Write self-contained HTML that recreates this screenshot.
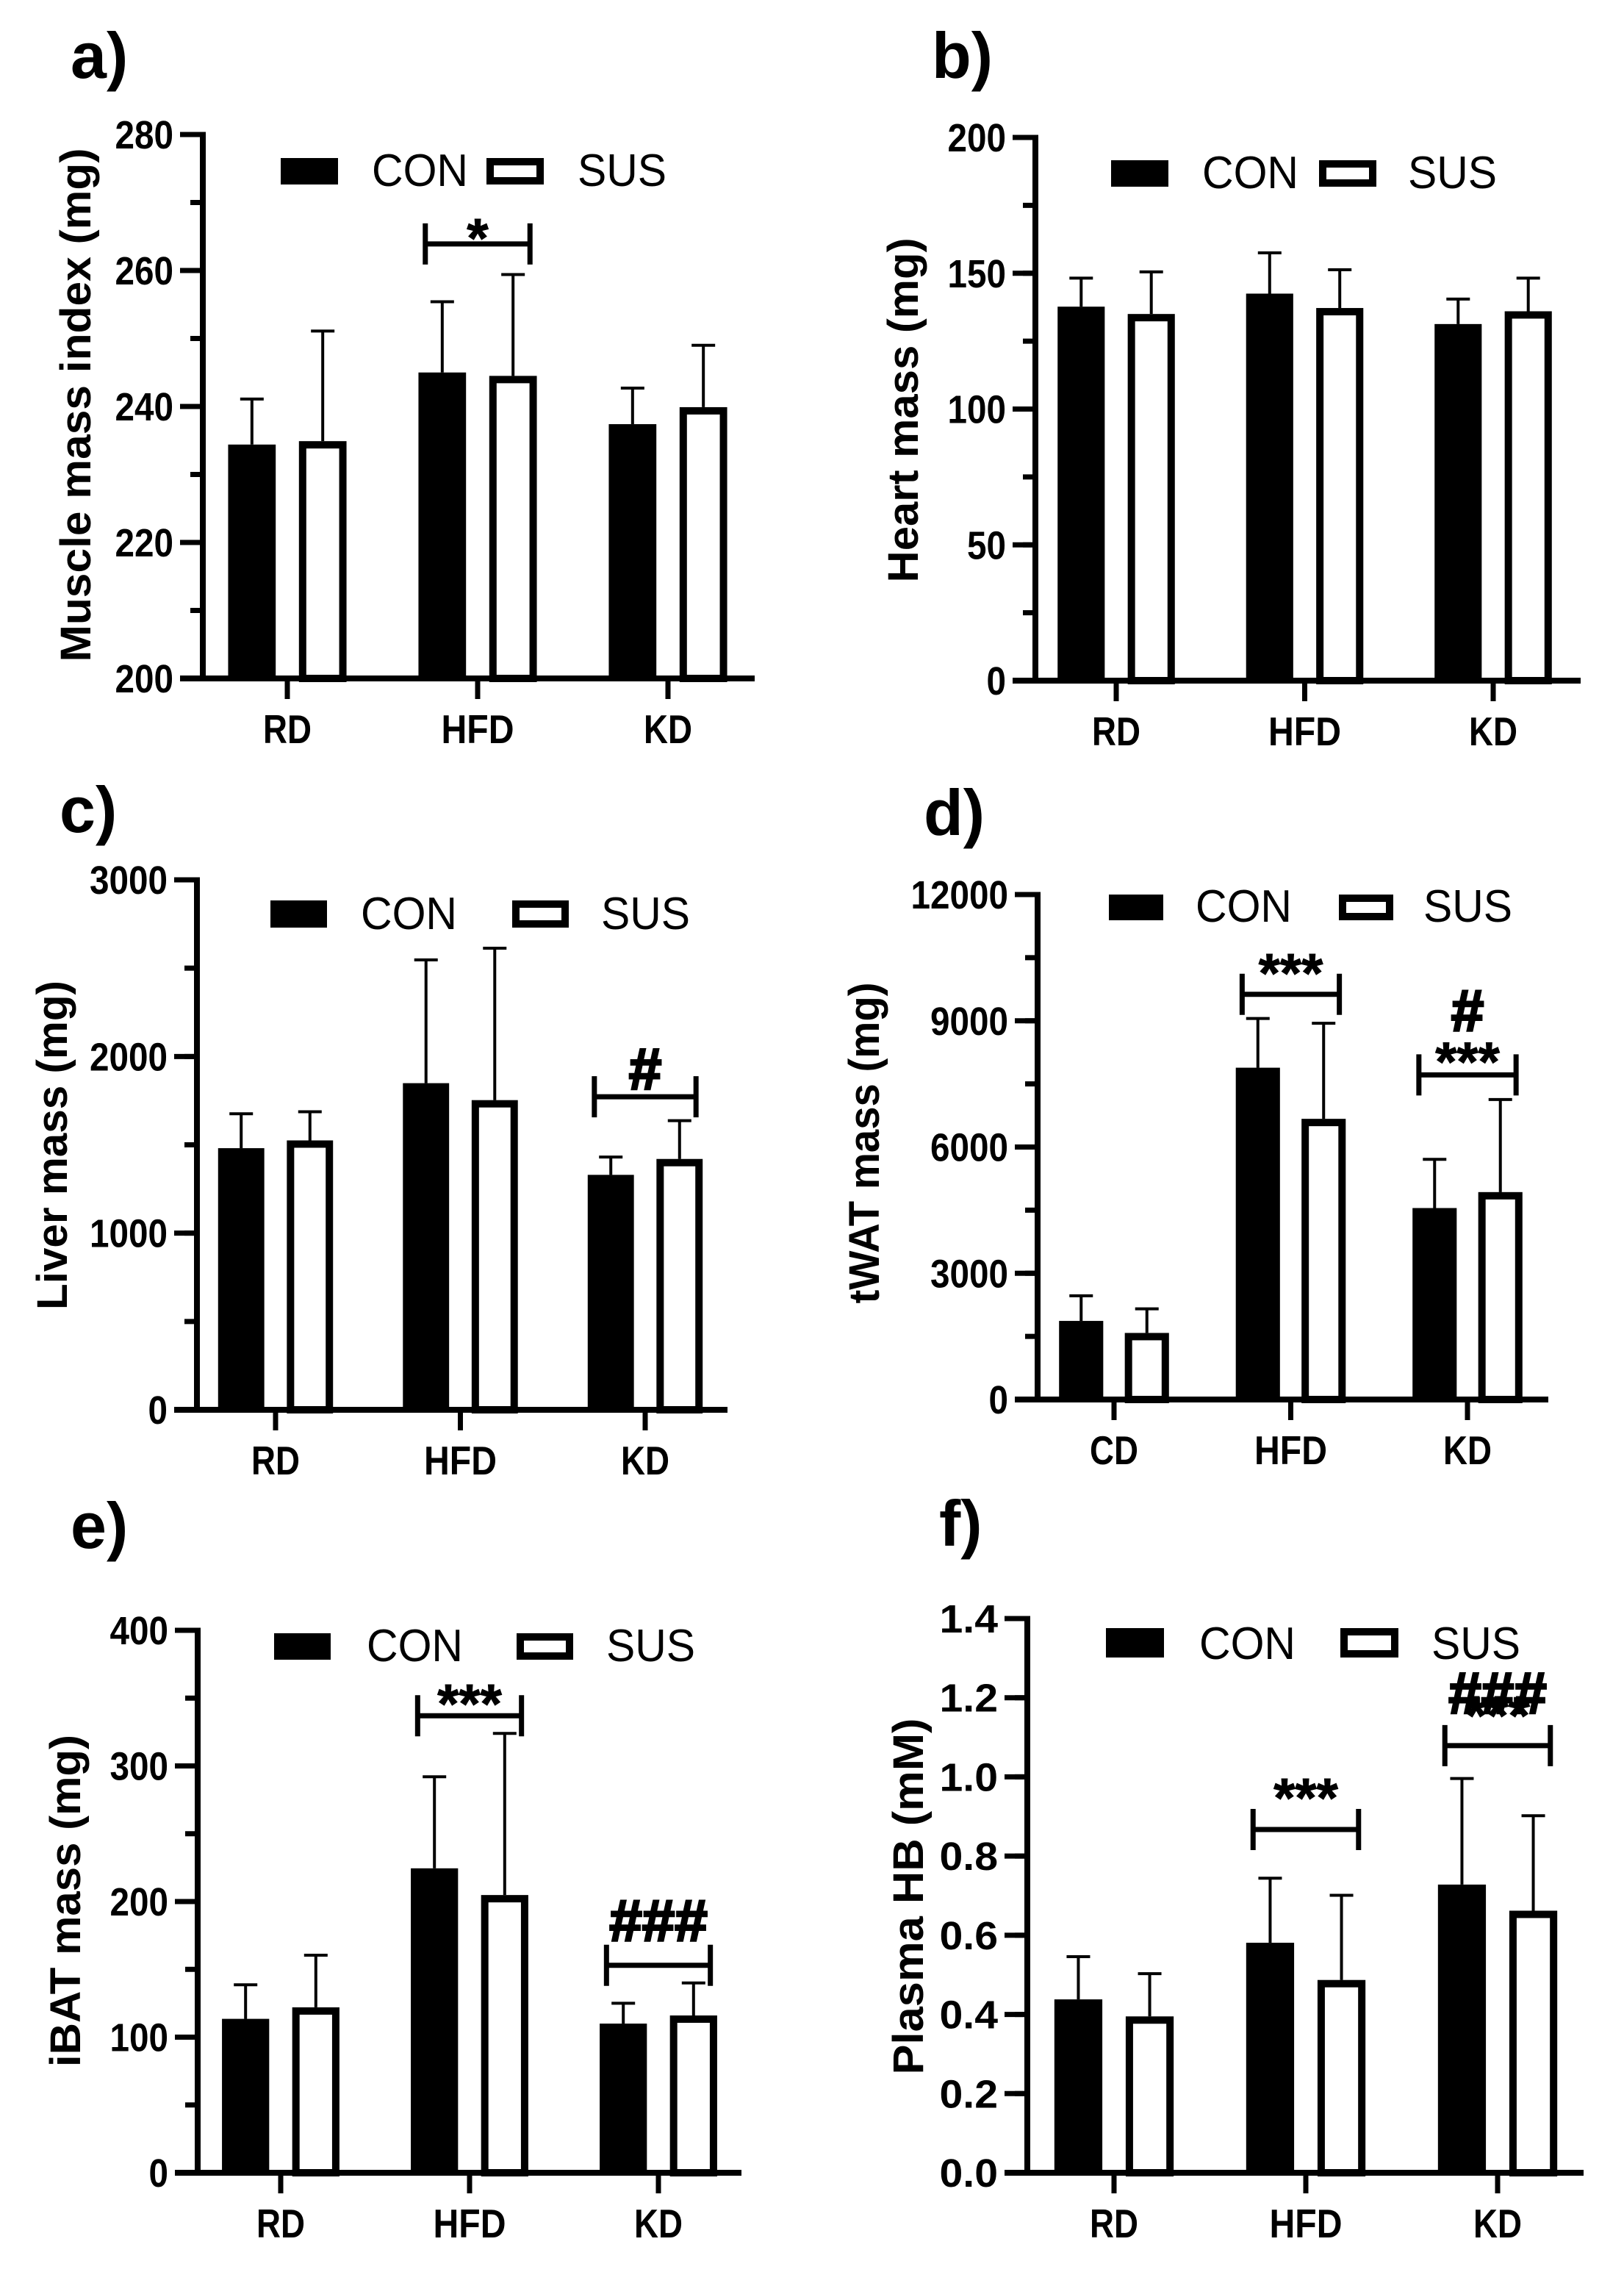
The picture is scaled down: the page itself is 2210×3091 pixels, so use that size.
<!DOCTYPE html>
<html><head><meta charset="utf-8"><style>
html,body{margin:0;padding:0;background:#fff}
svg{display:block}
text{font-family:"Liberation Sans",Arial,sans-serif}
</style></head><body>
<svg id="fig" xmlns="http://www.w3.org/2000/svg" width="2210" height="3091" viewBox="0 0 2210 3091"></svg>
<script>
// ---- data ----
const catsA = ["RD","HFD","KD"];
const conA = [234.4, 245.0, 237.4];
const conErrA = [241.1, 255.4, 242.7];
const susA = [234.9, 244.5, 239.9];
const susErrA = [251.1, 259.4, 249.0];

const catsB = ["RD","HFD","KD"];
const conB = [137.7, 142.5, 131.3];
const conErrB = [148.2, 157.5, 140.5];
const susB = [135.0, 137.2, 136.0];
const susErrB = [150.5, 151.3, 148.2];

const catsC = ["RD","HFD","KD"];
const conC = [1481, 1849, 1330];
const conErrC = [1676, 2547, 1431];
const susC = [1525, 1753, 1420];
const susErrC = [1687, 2613, 1637];

const catsD = ["CD","HFD","KD"];
const conD = [1868, 7885, 4550];
const conErrD = [2464, 9054, 5708];
const susD = [1582, 6670, 4929];
const susErrD = [2155, 8940, 7129];

const catsE = ["RD","HFD","KD"];
const conE = [113.5, 224.5, 110];
const conErrE = [138.6, 292, 125];
const susE = [122, 204.8, 116];
const susErrE = [160.4, 324, 140];

const catsF = ["RD","HFD","KD"];
const conF = [0.438, 0.581, 0.728];
const conErrF = [0.546, 0.744, 0.996];
const susF = [0.395, 0.487, 0.662];
const susErrF = [0.503, 0.701, 0.902];

const ticksA = [200,220,240,260,280];
const ticksB = [0,50,100,150,200];
const ticksC = [0,1000,2000,3000];
const ticksD = [0,3000,6000,9000,12000];
const ticksE = [0,100,200,300,400];
const ticksF = ["0.0","0.2","0.4","0.6","0.8","1.0","1.2","1.4"];

// ---- layout ----
const NS = "http://www.w3.org/2000/svg";
const svg = document.getElementById("fig");
function el(tag, attrs, parent, txt){
  const e = document.createElementNS(NS, tag);
  for (const k in attrs) e.setAttribute(k, attrs[k]);
  if (txt !== undefined) e.textContent = txt;
  (parent || svg).appendChild(e);
  return e;
}

const panels = [
 {id:"a", label:"a)", lx:96, ly:106, title:"Muscle mass index (mg)", tx:123, tmid:551, tlen:699,
  ax:276, top:183, bottom:923, xEnd:1027, t0:391, sp:259, ymin:200, ymax:280, minor:10,
  ticks:ticksA, cats:catsA, con:conA, conErr:conErrA, sus:susA, susErr:susErrA,
  leg:{cx:382, cw:78, y1:215, y2:251, ct:506, sx:662, st:786},
  br:[{g:1, v:263.9, t:"*", dy:[18]}]},
 {id:"b", label:"b)", lx:1268, ly:106, title:"Heart mass (mg)", tx:1249, tmid:558, tlen:469,
  ax:1409, top:187, bottom:926, xEnd:2151, t0:1519, sp:256.5, ymin:0, ymax:200, minor:25,
  ticks:ticksB, cats:catsB, con:conB, conErr:conErrB, sus:susB, susErr:susErrB,
  leg:{cx:1512, cw:78, y1:218, y2:254, ct:1636, sx:1795, st:1916}, br:[]},
 {id:"c", label:"c)", lx:81, ly:1132, title:"Liver mass (mg)", tx:91, tmid:1558, tlen:448,
  ax:268, top:1197, bottom:1918, xEnd:990, t0:375, sp:251.5, ymin:0, ymax:3000, minor:500,
  ticks:ticksC, cats:catsC, con:conC, conErr:conErrC, sus:susC, susErr:susErrC,
  leg:{cx:368, cw:77, y1:1225, y2:1262, ct:491, sx:697, st:818},
  br:[{g:2, v:1772, t:"#", dy:[-10]}]},
 {id:"d", label:"d)", lx:1257, ly:1136, title:"tWAT mass (mg)", tx:1196, tmid:1555, tlen:437,
  ax:1412, top:1217, bottom:1904, xEnd:2107, t0:1516, sp:240.5, ymin:0, ymax:12000, minor:1500,
  ticks:ticksD, cats:catsD, con:conD, conErr:conErrD, sus:susD, susErr:susErrD,
  leg:{cx:1509, cw:74, y1:1217, y2:1252, ct:1627, sx:1822, st:1937},
  br:[{g:1, v:9628, t:"***", dy:[-3]}, {g:2, v:7714, t:"***", dy:[8], t2:"#", dy2:-60}]},
 {id:"e", label:"e)", lx:96, ly:2106, title:"iBAT mass (mg)", tx:109, tmid:2586, tlen:452,
  ax:269, top:2218, bottom:2956, xEnd:1009, t0:382, sp:257, ymin:0, ymax:400, minor:50,
  ticks:ticksE, cats:catsE, con:conE, conErr:conErrE, sus:susE, susErr:susErrE,
  leg:{cx:373, cw:77, y1:2222, y2:2258, ct:499, sx:703, st:825},
  br:[{g:1, v:337, t:"***", dy:[10]}, {g:2, v:153, t:"###", dy:[-33]}]},
 {id:"f", label:"f)", lx:1278, ly:2103, title:"Plasma HB (mM)", tx:1256, tmid:2580, tlen:485,
  ax:1398, top:2202, bottom:2956, xEnd:2155, t0:1516, sp:261, ymin:0, ymax:1.4, minor:0.2,
  ticks:ticksF, cats:catsF, con:conF, conErr:conErrF, sus:susF, susErr:susErrF,
  leg:{cx:1505, cw:79, y1:2215, y2:2255, ct:1632, sx:1824, st:1948},
  br:[{g:1, v:0.867, t:"***", dy:[-17]}, {g:2, v:1.079, t:"***", dy:[-15], t2:"###", dy2:-44}]}
];

panels.forEach(p => {
  const g = el("g", {});
  
  
  const y = v => p.bottom - (v - p.ymin) / (p.ymax - p.ymin) * (p.bottom - p.top);
  const xc = i => p.t0 + i * p.sp;
  const bw = p.sp * 0.25, off = p.sp * 0.186;

  const lab = el("text", {x:p.lx, y:p.ly, "font-size":88, "font-weight":"bold"}, g, p.label);
  
  

  const yt = el("text", {x:p.tx, y:p.tmid, "font-size":58, "font-weight":"bold", "text-anchor":"middle",
    transform:`rotate(-90 ${p.tx} ${p.tmid})`, textLength:p.tlen, lengthAdjust:"spacingAndGlyphs"}, g, p.title);
  
  

  for (let v = p.ymin; v <= p.ymax + 1e-9; v += p.minor) {
    const mt = el("line", {x1:p.ax-17, x2:p.ax, y1:y(v), y2:y(v), stroke:"#000", "stroke-width":7}, g);
    
    
  }
  p.ticks.forEach(t => {
    const v = parseFloat(t);
    const tk = el("line", {x1:p.ax-31, x2:p.ax, y1:y(v), y2:y(v), stroke:"#000", "stroke-width":7}, g);
    
    
    const s = String(t);
    const tl = el("text", {x:p.ax-40, y:y(v)+19, "font-size":54, "font-weight":"bold", "text-anchor":"end",
      textLength:s.length*26.5, lengthAdjust:"spacingAndGlyphs"}, g, s);
    
    
  });

  p.cats.forEach((c, i) => {
    const cx = xc(i) - off, sx = xc(i) + off;
    const r1 = el("rect", {x:cx-bw/2, y:y(p.con[i]), width:bw, height:p.bottom - y(p.con[i]), fill:"#000"}, g);
    
    
    const e1 = el("path", {d:`M${cx} ${y(p.con[i])} V${y(p.conErr[i])} M${cx-16} ${y(p.conErr[i])} H${cx+16}`, stroke:"#000", "stroke-width":4, fill:"none"}, g);
    
    
    const e2 = el("path", {d:`M${sx} ${y(p.sus[i])} V${y(p.susErr[i])} M${sx-16} ${y(p.susErr[i])} H${sx+16}`, stroke:"#000", "stroke-width":4, fill:"none"}, g);
    
    
    const r2 = el("rect", {x:sx-bw/2+5, y:y(p.sus[i])+5, width:bw-10, height:p.bottom - y(p.sus[i]) - 5, fill:"#fff", stroke:"#000", "stroke-width":10}, g);
    
    
    const ct = el("line", {x1:xc(i), x2:xc(i), y1:p.bottom, y2:p.bottom+28, stroke:"#000", "stroke-width":7}, g);
    
    
    const cl = el("text", {x:xc(i), y:p.bottom+88, "font-size":55, "font-weight":"bold", "text-anchor":"middle",
      textLength:c.length*33, lengthAdjust:"spacingAndGlyphs"}, g, c);
    
    
  });

  const ya = el("line", {x1:p.ax, x2:p.ax, y1:p.top-3.5, y2:p.bottom+3.5, stroke:"#000", "stroke-width":8}, g);
  
  
  const xa = el("line", {x1:p.ax-31, x2:p.xEnd, y1:p.bottom, y2:p.bottom, stroke:"#000", "stroke-width":8}, g);
  
  

  const L = p.leg, lh = L.y2 - L.y1;
  const lc = el("rect", {x:L.cx, y:L.y1, width:L.cw, height:lh, fill:"#000"}, g);
  
  
  const lct = el("text", {x:L.ct, y:L.y2+2, "font-size":62, textLength:131, lengthAdjust:"spacingAndGlyphs"}, g, "CON");
  
  
  const ls = el("rect", {x:L.sx+5, y:L.y1+5, width:L.cw-10, height:lh-10, fill:"#fff", stroke:"#000", "stroke-width":10}, g);
  
  
  const lst = el("text", {x:L.st, y:L.y2+2, "font-size":62, textLength:121, lengthAdjust:"spacingAndGlyphs"}, g, "SUS");
  
  

  p.br.forEach(b => {
    const x1 = xc(b.g) - p.sp*0.275, x2 = xc(b.g) + p.sp*0.275, yy = y(b.v);
    const bp = el("path", {d:`M${x1} ${yy-28} V${yy+28} M${x1} ${yy} H${x2} M${x2} ${yy-28} V${yy+28}`, stroke:"#000", "stroke-width":7, fill:"none"}, g);
    
    
    const star = b.t.indexOf("*") >= 0;
    const t1 = el("text", {x:(x1+x2)/2, y:yy + b.dy[0], "font-size":star ? 75 : 80, "font-weight":"bold", "text-anchor":"middle",
      stroke:"#000", "stroke-width":star ? 1 : 3}, g, b.t);
    
    
    if (b.t2) {
      const t2 = el("text", {x:(x1+x2)/2, y:yy + b.dy2, "font-size":80, "font-weight":"bold", "text-anchor":"middle",
        stroke:"#000", "stroke-width":3}, g, b.t2);
      
      
    }
  });
});
</script>
</body></html>
